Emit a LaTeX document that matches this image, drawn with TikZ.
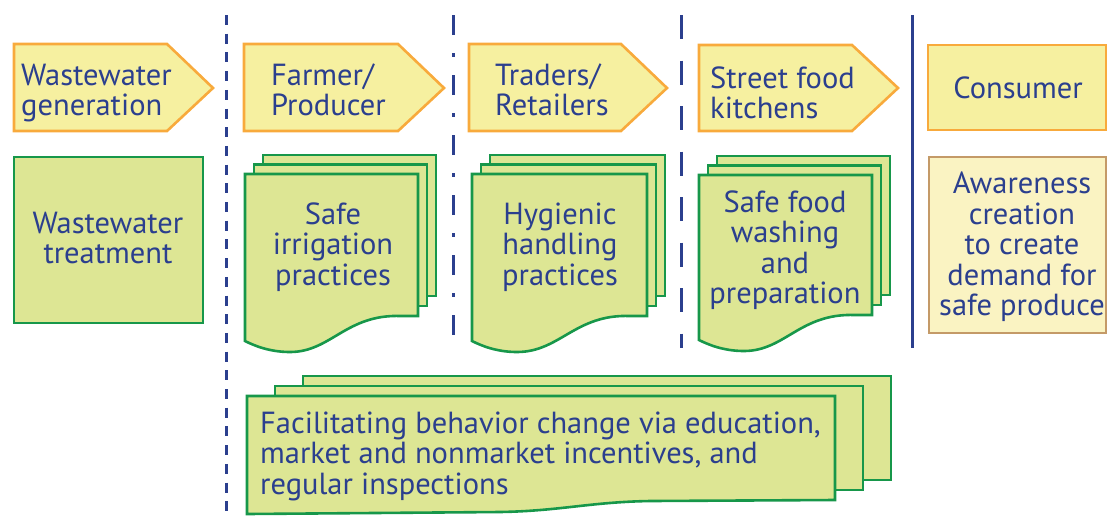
\documentclass[tikz,border=0pt]{standalone}
\usepackage{fontspec}
\setmainfont{PT Sans}
\definecolor{navy}{HTML}{2B3F8E}
\definecolor{orangeC}{HTML}{F8AA3C}
\definecolor{yellowF}{HTML}{F6F0A0}
\definecolor{greenC}{HTML}{17974A}
\definecolor{greenF}{HTML}{DDE694}
\definecolor{paleF}{HTML}{FAF3C2}
\definecolor{tanC}{HTML}{C49A68}
\newcommand{\mydocstack}[4]{%
  \draw[greenbox] (#1+18,#2-19) rectangle (#3+18,#4-20);
  \draw[greenbox] (#1+9,#2-9.5) rectangle (#3+9,#4-10);
  \draw[greenbox] (#1,#2) -- (#3,#2) -- (#3,#4) -- (#3-17,#4)
    .. controls (#3-72,#4-2) and (#3-87,#4+36) .. (#1+45,#4+36)
    .. controls (#1+25,#4+36) and (#1+10,#4+30) .. (#1,#4+25) -- cycle;}
\begin{document}
\begin{tikzpicture}[x=1pt,y=-1pt,
  arrowbox/.style={draw=orangeC, fill=yellowF, line width=2.6pt, line join=miter},
  greenbox/.style={draw=greenC, fill=greenF, line width=2.6pt, line join=miter},
  lbl/.style={text=navy, font=\fontsize{30.5}{30.5}\selectfont, inner sep=0pt, align=center, yshift=-3pt},
  lbll/.style={lbl, align=left, anchor=west},
  divider/.style={draw=navy, line width=3pt}]
\useasboundingbox (0,0) rectangle (1107,515);
\clip (0,0) rectangle (1107,515);
% dividers
\draw[divider, dash pattern=on 10pt off 8.7pt] (226,15) -- (226,512);
\draw[divider, dash pattern=on 20pt off 18pt on 4pt off 18pt] (453,15) -- (453,345);
\draw[divider, dash pattern=on 24pt off 21.5pt] (681,15) -- (681,348);
\draw[divider] (912,15) -- (912,348);
% top row
\draw[arrowbox] (14,44) -- (167,44) -- (213,88) -- (167,131) -- (14,131) -- cycle;
\draw[arrowbox] (244,44) -- (398,44) -- (444,88) -- (398,131) -- (244,131) -- cycle;
\draw[arrowbox] (469,44) -- (621,44) -- (667,88) -- (621,131) -- (469,131) -- cycle;
\draw[arrowbox] (699,45) -- (852,45) -- (898,88) -- (852,131) -- (699,131) -- cycle;
\draw[arrowbox] (928,45) rectangle (1106,130);
\node[lbll] (gen) at (21,90) {Wastewater\\generation};
\node[lbll] (farm) at (271,87) {Farmer/\\Producer};
\node[lbll] (trad) at (495,87) {Traders/\\Retailers};
\node[lbll] (street) at (710,90) {Street food\\kitchens};
\node[lbl] (cons) at (1018,85) {Consumer};
% second row
\draw[greenbox] (14,157) rectangle (203,323);
\node[lbl] (treat) at (108,235) {Wastewater\\treatment};
\mydocstack{245}{174}{418}{316}
\node[lbl] (irr) at (333,244) {Safe\\irrigation\\practices};
\mydocstack{472}{174}{647}{316}
\node[lbl] (hyg) at (560,244) {Hygienic\\handling\\practices};
\mydocstack{699}{175}{872}{315}
\node[lbl] (wash) at (785,247) {Safe food\\washing\\and\\preparation};
\draw[draw=tanC, fill=paleF, line width=2.6pt] (929,157) rectangle (1106,333);
\node[lbl] (aware) at (1022,244) {Awareness\\creation\\to create\\demand for\\safe produce};
% bottom stack
\draw[greenbox] (303,376) rectangle (891,480);
\draw[greenbox] (275,386) rectangle (863,490);
\draw[greenbox] (247,396) -- (835,396) -- (835,500) -- (650,501)
  .. controls (590,502) and (560,511) .. (500,512) -- (247,514) -- cycle;
\node[lbll] (fac) at (260,453) {Facilitating behavior change via education,\\market and nonmarket incentives, and\\regular inspections};
\end{tikzpicture}
\end{document}
